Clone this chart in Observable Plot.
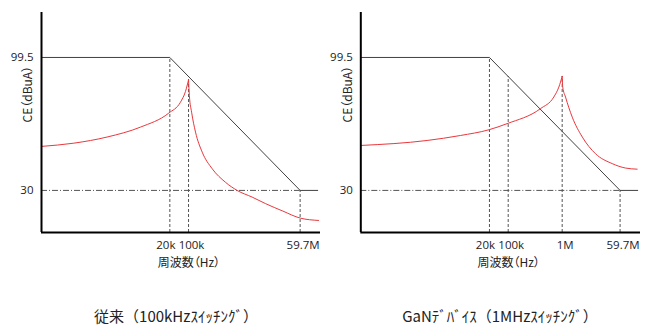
<!DOCTYPE html>
<html>
<head>
<meta charset="utf-8">
<script src="https://cdn.jsdelivr.net/npm/d3@7"></script>
<script src="https://cdn.jsdelivr.net/npm/@observablehq/plot@0.6"></script>
<style>
  html, body { margin: 0; padding: 0; background: #fff; }
  #wrap { display: flex; width: 648px; }
  .panel { width: 324px; }
  svg text { font-feature-settings: "palt"; }
  .cap { font-family: "Noto Sans CJK JP", sans-serif; font-size: 15px; line-height: 20px;
         margin-top: 26px; padding-left: 28px; text-align: center; color: #222; white-space: nowrap; }
</style>
</head>
<body>
<div id="wrap"></div>
<script>
// x is a schematic frequency position (0–100), not a true scale
const freqTickPos = [46, 52.7, 72, 92.7];
const freqTickLabels = ["20k", "100k", "1M", "59.7M"];
const ceTicks = [30, 99.5];
const ceTickLabels = ["30", "99.5"];

// CE limit line
const limitX = [0, 46, 92.7, 99];
const limitY = [99.5, 99.5, 30, 30];

// Conventional (100kHz switching) noise spectrum
const convRiseX = [0, 11.6, 23.5, 35.5, 45.6, 49.8, 51.6, 52.7];
const convRiseY = [53.0, 54.7, 57.9, 63.1, 70.4, 76.1, 81.7, 87.8];
const convFallX = [52.7, 53.0, 53.8, 55.2, 57.6, 61.2, 65.9, 70.1, 75.5, 80.3, 86.5, 92.8, 99.3];
const convFallY = [87.8, 79.6, 70.9, 60.5, 50.0, 41.3, 34.3, 30.0, 26.5, 23.1, 19.2, 15.5, 14.3];

// GaN device (1MHz switching) noise spectrum
const ganRiseX = [0, 23.7, 35.6, 45.8, 52.3, 64.2, 69.0, 70.8, 72.0];
const ganRiseY = [53.5, 56.1, 58.7, 61.7, 64.9, 72.7, 78.8, 84.0, 89.6];
const ganFallX = [72.0, 72.2, 73.2, 75.6, 79.2, 83.9, 89.9, 94.6, 98.8];
const ganFallY = [89.6, 84.0, 78.8, 68.3, 57.9, 49.2, 44.0, 41.7, 41.1];

const yLabel = "CE（dBuA）";
const xLabel = "周波数（Hz）";
const captions = ["従来（100kHzｽｲｯﾁﾝｸﾞ）", "GaNﾃﾞﾊﾞｲｽ（1MHzｽｲｯﾁﾝｸﾞ）"];

const RED = "#e8383d";
const yMin = 8, yMax = 123;

function limitAt(x) {
  for (let i = 1; i < limitX.length; i++) {
    if (x <= limitX[i]) {
      const t = (x - limitX[i - 1]) / (limitX[i] - limitX[i - 1]);
      return limitY[i - 1] + t * (limitY[i] - limitY[i - 1]);
    }
  }
  return limitY[limitY.length - 1];
}

function build(riseX, riseY, fallX, fallY, tickIdx, peakTickIdx, ml, mr) {
  const limit = limitX.map((x, i) => ({x, y: limitY[i]}));
  const curve = [
    ...riseX.map((x, i) => ({x, y: riseY[i], seg: "rise"})),
    ...fallX.map((x, i) => ({x, y: fallY[i], seg: "fall"}))
  ];
  const peakY = d3.max(curve, d => d.y);
  const guides = tickIdx.map(i => ({
    x: freqTickPos[i],
    top: i === peakTickIdx ? peakY : limitAt(freqTickPos[i])
  }));
  const ticks20k = tickIdx.filter(i => i === 0).map(i => freqTickPos[i]);
  const ticksOther = tickIdx.filter(i => i !== 0).map(i => freqTickPos[i]);
  const fmt = d => freqTickLabels[freqTickPos.indexOf(d)];
  const lastTick = freqTickPos[tickIdx[tickIdx.length - 1]];
  return Plot.plot({
    width: 324, height: 280,
    marginLeft: ml, marginRight: mr, marginTop: 12, marginBottom: 48,
    x: {type: "linear", domain: [0, 100]},
    y: {type: "linear", domain: [yMin, yMax]},
    style: {fontFamily: "'Open Sans', sans-serif", fontSize: "11.5px", color: "#222", background: "#fff", overflow: "visible"},
    marks: [
      Plot.ruleY([30], {x1: 0, x2: lastTick, stroke: "#555", strokeWidth: 1, strokeDasharray: "6,2,1,2"}),
      Plot.ruleX(guides, {x: "x", y1: yMin, y2: "top", stroke: "#555", strokeWidth: 1, strokeDasharray: "3,2"}),
      Plot.line(limit, {x: "x", y: "y", stroke: "#404040", strokeWidth: 1}),
      Plot.line(curve, {x: "x", y: "y", z: "seg", stroke: RED, strokeWidth: 1, curve: "monotone-x"}),
      Plot.ruleX([0], {stroke: "#000", strokeWidth: 2}),
      Plot.ruleY([yMin], {stroke: "#000", strokeWidth: 2}),
      Plot.axisY(ceTicks, {tickSize: 0, tickPadding: 8, label: null, fontSize: 11.5,
        tickFormat: d => ceTickLabels[ceTicks.indexOf(d)]}),
      Plot.axisX(ticks20k, {tickSize: 0, tickPadding: 8, label: null, dx: -4, fontSize: 11.5, tickFormat: fmt}),
      Plot.axisX(ticksOther, {tickSize: 0, tickPadding: 8, label: null, dx: 3, fontSize: 11.5, tickFormat: fmt}),
      Plot.text([yLabel], {text: d => d, frameAnchor: "left", rotate: -90, dx: -13,
        fontFamily: "'Noto Sans CJK JP', sans-serif", fontSize: 12, fill: "#222"}),
      Plot.text([xLabel], {text: d => d, frameAnchor: "bottom", dx: 8, dy: 34,
        fontFamily: "'Noto Sans CJK JP', sans-serif", fontSize: 12, fill: "#222"})
    ]
  });
}

const wrap = document.getElementById("wrap");
const specs = [
  [convRiseX, convRiseY, convFallX, convFallY, [0, 1, 3], -1, 41, 4],
  [ganRiseX, ganRiseY, ganFallX, ganFallY, [0, 1, 2, 3], 2, 36.3, 8]
];
specs.forEach((s, k) => {
  const panel = document.createElement("div");
  panel.className = "panel";
  panel.appendChild(build(...s));
  const cap = document.createElement("div");
  cap.className = "cap";
  cap.textContent = captions[k];
  panel.appendChild(cap);
  wrap.appendChild(panel);
});
</script>
</body>
</html>
